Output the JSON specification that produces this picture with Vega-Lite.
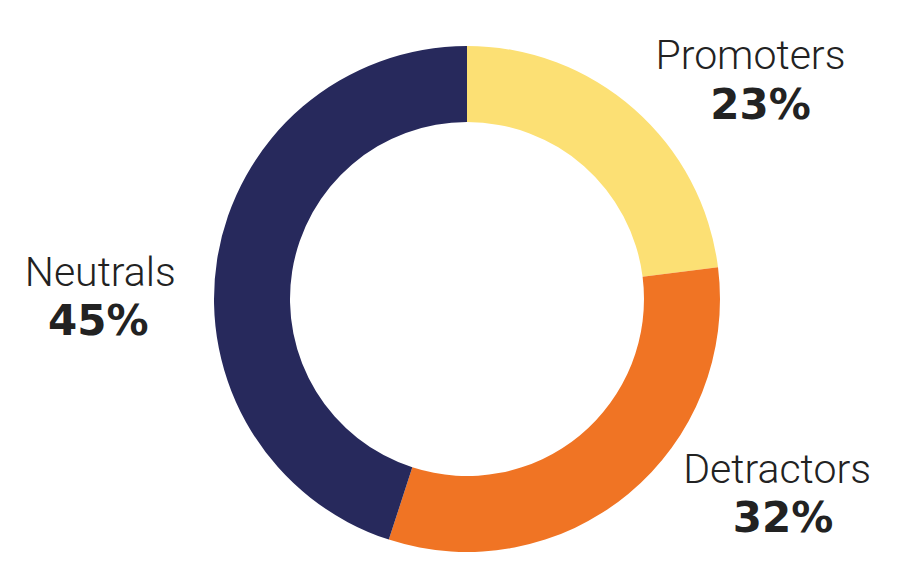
{
  "$schema": "https://vega.github.io/schema/vega-lite/v6.json",
  "width": 866,
  "height": 570,
  "autosize": "none",
  "padding": {"left": 34, "top": 14, "right": 0, "bottom": 0},
  "background": "white",
  "view": {"stroke": null},
  "data": {
    "values": [
      {"category": "Promoters", "share": 0.23, "order": 1},
      {"category": "Detractors", "share": 0.32, "order": 2},
      {"category": "Neutrals", "share": 0.45, "order": 3}
    ]
  },
  "encoding": {
    "theta": {"field": "share", "type": "quantitative", "stack": true},
    "order": {"field": "order", "type": "quantitative"}
  },
  "layer": [
    {
      "mark": {"type": "arc", "outerRadius": 253, "innerRadius": 177},
      "encoding": {
        "color": {
          "field": "category",
          "type": "nominal",
          "scale": {"domain": ["Promoters", "Detractors", "Neutrals"], "range": ["#FCE074", "#F07424", "#27295C"]},
          "legend": null
        }
      }
    },
    {
      "mark": {"type": "text", "radius": 350, "dx": 52, "dy": 33, "align": "center", "baseline": "alphabetic", "font": "Roboto", "fontWeight": 300, "fontSize": 41, "color": "#222222"},
      "encoding": {"text": {"condition": {"test": "datum.category === 'Promoters'", "field": "category"}, "value": ""}}
    },
    {
      "mark": {"type": "text", "radius": 350, "dx": 62, "dy": 83, "align": "center", "baseline": "alphabetic", "font": "DejaVu Sans", "fontWeight": 700, "fontSize": 42, "color": "#222222"},
      "encoding": {"text": {"condition": {"test": "datum.category === 'Promoters'", "field": "share", "format": ".0%"}, "value": ""}}
    },
    {
      "mark": {"type": "text", "radius": 350, "dx": 87, "dy": -86, "align": "center", "baseline": "alphabetic", "font": "Roboto", "fontWeight": 300, "fontSize": 41, "color": "#222222"},
      "encoding": {"text": {"condition": {"test": "datum.category === 'Detractors'", "field": "category"}, "value": ""}}
    },
    {
      "mark": {"type": "text", "radius": 350, "dx": 93, "dy": -37, "align": "center", "baseline": "alphabetic", "font": "DejaVu Sans", "fontWeight": 700, "fontSize": 42, "color": "#222222"},
      "encoding": {"text": {"condition": {"test": "datum.category === 'Detractors'", "field": "share", "format": ".0%"}, "value": ""}}
    },
    {
      "mark": {"type": "text", "radius": 350, "dx": -21, "dy": 42, "align": "center", "baseline": "alphabetic", "font": "Roboto", "fontWeight": 300, "fontSize": 41, "color": "#222222"},
      "encoding": {"text": {"condition": {"test": "datum.category === 'Neutrals'", "field": "category"}, "value": ""}}
    },
    {
      "mark": {"type": "text", "radius": 350, "dx": -23, "dy": 91, "align": "center", "baseline": "alphabetic", "font": "DejaVu Sans", "fontWeight": 700, "fontSize": 42, "color": "#222222"},
      "encoding": {"text": {"condition": {"test": "datum.category === 'Neutrals'", "field": "share", "format": ".0%"}, "value": ""}}
    }
  ]
}
